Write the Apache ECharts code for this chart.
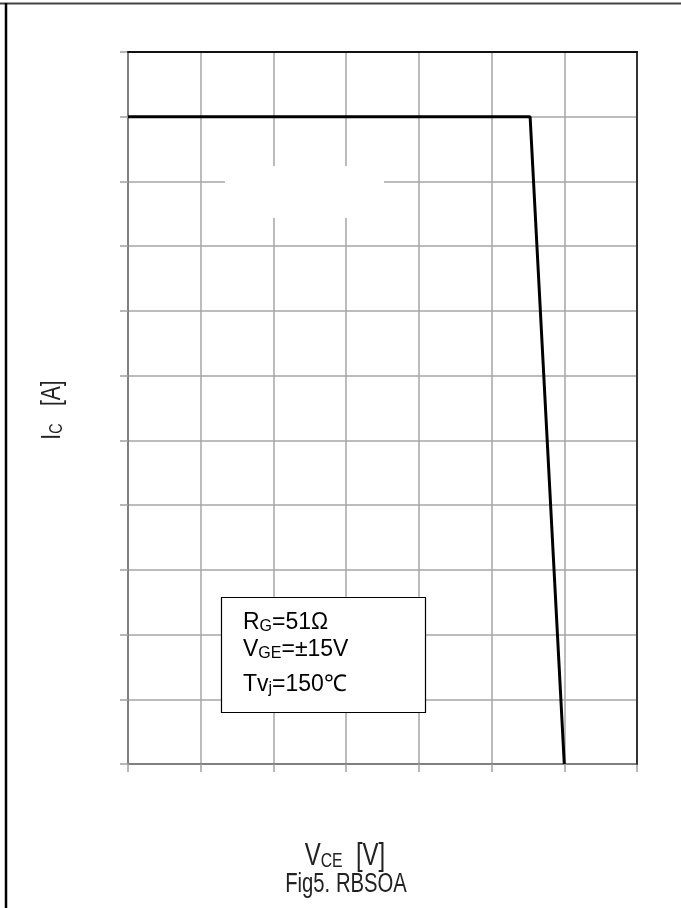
<!DOCTYPE html>
<html>
<head>
<meta charset="utf-8">
<script src="https://cdn.jsdelivr.net/npm/echarts@6/dist/echarts.min.js"></script>
<style>
  html, body { margin: 0; padding: 0; background: #fff; }
  #rbsoa { width: 681px; height: 908px; }
</style>
</head>
<body>
<div id="rbsoa"></div>
<script>
// axis ranges (no tick labels are printed on the figure)
const vceRange = [0, 1400];
const vceStep = 200;
const icRange = [0, 220];
const icStep = 20;

// RBSOA boundary
const vce = [0, 1106, 1200];
const ic = [200, 200, 0];

// text in the condition box
const conditions = [
  '{m|R}{s|G}{m|=51Ω}',
  '{m|V}{s|GE}{m|=±15V}',
  '{m|Tv}{s|j}{m|=150℃}'
];
const condY = [623, 650, 685];

const arial = "'Liberation Sans', Arial, sans-serif";

let myChart = echarts.init(document.getElementById('rbsoa'));

let condText = conditions.map(function (t, i) {
  return {
    type: 'text',
    z: 11,
    x: 243,
    y: condY[i],
    style: {
      text: t,
      verticalAlign: 'middle',
      rich: {
        m: { fontFamily: arial, fontSize: 23, lineHeight: 23, fill: '#000', verticalAlign: 'bottom' },
        s: { fontFamily: arial, fontSize: 16, lineHeight: 16, fill: '#000', verticalAlign: 'bottom' }
      }
    }
  };
});

// narrow label: arial squeezed horizontally
function narrowRich(size, sub) {
  return {
    m: { fontFamily: arial, fontSize: size, lineHeight: size, fill: '#222', verticalAlign: 'bottom' },
    s: { fontFamily: arial, fontSize: sub, lineHeight: sub, fill: '#222', verticalAlign: 'bottom' }
  };
}

myChart.setOption({
  animation: false,
  grid: {
    left: 128,
    right: 44,
    top: 52,
    bottom: 144
  },
  xAxis: [
    {
      type: 'value',
      min: vceRange[0],
      max: vceRange[1],
      interval: vceStep,
      axisLine: { onZero: false, lineStyle: { color: '#808080', width: 2 } },
      axisTick: { show: true, length: 8, lineStyle: { color: '#a0a0a0', width: 1.5 } },
      axisLabel: { show: false },
      splitLine: { show: true, lineStyle: { color: '#a6a6a6', width: 1.5 } }
    },
    {
      // top border of the plot
      type: 'value',
      position: 'top',
      z: 3,
      min: vceRange[0],
      max: vceRange[1],
      axisLine: { show: true, onZero: false, lineStyle: { color: '#111', width: 2 } },
      axisTick: { show: false },
      axisLabel: { show: false },
      splitLine: { show: false }
    }
  ],
  yAxis: [
    {
      type: 'value',
      min: icRange[0],
      max: icRange[1],
      interval: icStep,
      axisLine: { show: true, onZero: false, lineStyle: { color: '#808080', width: 2 } },
      axisTick: { show: true, length: 8, lineStyle: { color: '#a0a0a0', width: 1.5 } },
      axisLabel: { show: false },
      splitLine: { show: true, lineStyle: { color: '#a6a6a6', width: 1.5 } }
    },
    {
      // right border of the plot
      type: 'value',
      position: 'right',
      z: 3,
      min: icRange[0],
      max: icRange[1],
      axisLine: { show: true, onZero: false, lineStyle: { color: '#333', width: 2 } },
      axisTick: { show: false },
      axisLabel: { show: false },
      splitLine: { show: false }
    }
  ],
  graphic: [
    // outer frame (top and left only)
    { type: 'line', shape: { x1: 0, y1: 3.5, x2: 681, y2: 3.5 }, style: { stroke: '#444', lineWidth: 2 } },
    { type: 'line', shape: { x1: 6, y1: 3, x2: 6, y2: 908 }, style: { stroke: '#000', lineWidth: 2.5 } },
    // blank patch in the grid
    { type: 'rect', z: 1, shape: { x: 225, y: 166, width: 159, height: 52 }, style: { fill: '#fff' } },
    // condition box
    { type: 'rect', z: 10, shape: { x: 221.5, y: 597.5, width: 204, height: 115 }, style: { fill: '#fff', stroke: '#000', lineWidth: 1.2 } },
    ...condText,
    {
      type: 'text',
      x: 52,
      y: 410,
      rotation: Math.PI / 2,
      scaleX: 0.75,
      style: {
        text: '{m|I}{s|C}{m|   [A]}',
        align: 'center',
        verticalAlign: 'middle',
        rich: narrowRich(28, 19)
      }
    },
    {
      type: 'text',
      x: 345,
      y: 856,
      scaleX: 0.75,
      style: {
        text: '{m|V}{s|CE}{m|  [V]}',
        align: 'center',
        verticalAlign: 'middle',
        rich: narrowRich(32, 21)
      }
    },
    {
      type: 'text',
      x: 346,
      y: 885,
      scaleX: 0.75,
      style: {
        text: 'Fig5. RBSOA',
        align: 'center',
        verticalAlign: 'middle',
        fontFamily: arial,
        fontSize: 27,
        fill: '#222'
      }
    }
  ],
  series: [
    {
      type: 'line',
      z: 5,
      data: vce.map(function (v, i) { return [v, ic[i]]; }),
      showSymbol: false,
      lineStyle: { color: '#000', width: 3 }
    }
  ]
});
</script>
</body>
</html>
